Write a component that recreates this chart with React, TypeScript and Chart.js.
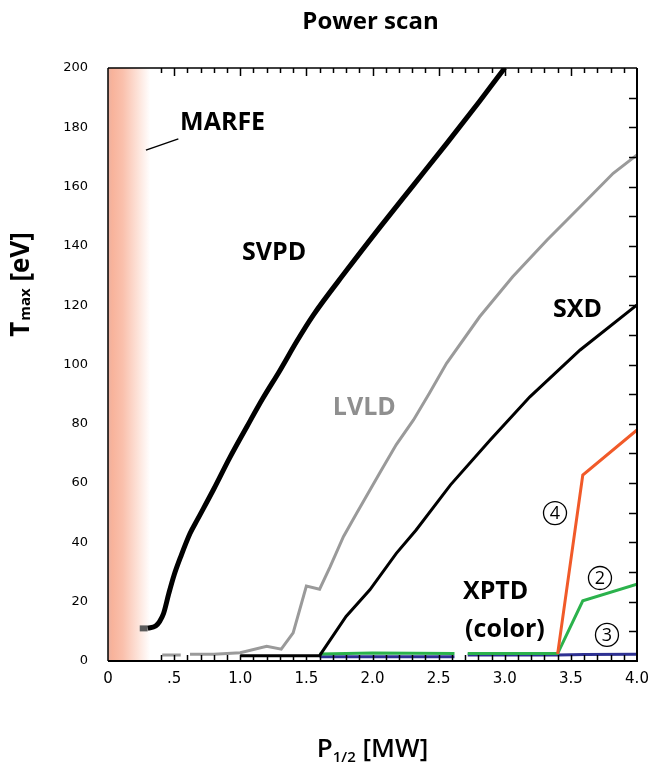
import React, { useEffect, useRef } from 'react';
import { Chart, registerables } from 'chart.js';
Chart.register(...registerables);

// ---- data ----
const xTickLabels = ['0', '.5', '1.0', '1.5', '2.0', '2.5', '3.0', '3.5', '4.0'];

const svpdStartX = [0.24, 0.3];
const svpdStartY = [11, 11];

const svpdX = [0.3, 0.36, 0.39, 0.42, 0.46, 0.5, 0.55, 0.62, 0.68, 0.8, 0.92, 1.05, 1.17, 1.3, 1.43, 1.55, 1.8, 2.06, 2.31, 2.56, 2.81, 3.0];
const svpdY = [11, 11.8, 13.3, 16, 22.8, 29, 35.2, 43, 48, 58, 68.5, 79, 88.5, 98, 108, 116.5, 131.5, 146.5, 160.5, 174.5, 188.8, 200];

const lvldX = [0.41, 0.55, 0.58, 0.62, 0.8, 1.0, 1.2, 1.31, 1.4, 1.5, 1.6, 1.68, 1.78, 1.88, 2.06, 2.18, 2.31, 2.43, 2.56, 2.81, 3.06, 3.32, 3.57, 3.82, 4.0];
const lvldY = [2, 2, null, 2.3, 2.3, 2.8, 5, 4, 9.5, 25.3, 24.2, 31.8, 41.9, 49.8, 63.8, 73, 81.3, 90.3, 100.4, 116.1, 129.6, 142, 153.2, 164.5, 170.7];

const sxdX = [1.0, 1.6, 1.8, 1.98, 2.18, 2.33, 2.59, 2.89, 3.19, 3.57, 4.0];
const sxdY = [1.8, 1.8, 15, 24, 36.3, 44.2, 59.4, 74.5, 89.1, 104.9, 120.1];

const xptd2X = [1.6, 2.0, 2.62, 2.67, 2.72, 3.4, 3.59, 4.0];
const xptd2Y = [2.4, 2.7, 2.5, null, 2.5, 2.5, 20.3, 25.9];

const xptd3X = [1.6, 2.62, 2.67, 2.72, 3.4, 3.6, 4.0];
const xptd3Y = [1.4, 1.4, null, 2.0, 2.0, 2.2, 2.3];

const xptd4X = [3.4, 3.59, 4.0];
const xptd4Y = [2.4, 62.7, 77.9];

const marfeBand = [0, 0.32];

const labelTexts = ['MARFE', 'SVPD', 'LVLD', 'SXD', 'XPTD', '(color)'];
const labelX = [0.545, 1.013, 1.70, 3.365, 2.684, 2.70];
const labelY = [181.5, 137.6, 85.3, 118.4, 23.3, 10.5];
const labelColors = ['#000', '#000', '#8f8f8f', '#000', '#000', '#000'];

const marfeLeaderX = [0.287, 0.532];
const marfeLeaderY = [172.3, 176.1];

const circleTexts = ['4', '2', '3'];
const circleX = [3.38, 3.72, 3.773];
const circleY = [49.9, 28, 8.8];

const pts = (xs: number[], ys: (number | null)[]) => xs.map((x, i) => ({ x, y: ys[i] }));

const decorPlugin = {
  id: 'decor',
  beforeDatasetsDraw(chart: any) {
    const { ctx, chartArea, scales } = chart;
    const xs = scales.x;
    const x0 = xs.getPixelForValue(marfeBand[0]);
    const x1 = xs.getPixelForValue(marfeBand[1]);
    const g = ctx.createLinearGradient(x0, 0, x1, 0);
    g.addColorStop(0, '#e9b2a3');
    g.addColorStop(0.1, '#f8b39b');
    g.addColorStop(0.35, '#fac0ac');
    g.addColorStop(0.7, '#fde2d8');
    g.addColorStop(1, 'rgba(255,255,255,1)');
    ctx.save();
    ctx.fillStyle = g;
    ctx.fillRect(x0, chartArea.top, x1 - x0, chartArea.bottom - chartArea.top);
    ctx.restore();
  },
  afterDatasetsDraw(chart: any) {
    const { ctx, chartArea, scales } = chart;
    const xs = scales.x;
    const ys = scales.y;
    const { left, right, top, bottom } = chartArea;
    ctx.save();
    ctx.strokeStyle = '#000';
    ctx.fillStyle = '#000';
    // ticks
    ctx.lineWidth = 1.5;
    for (let i = 4; i < 40; i++) {
      const v = i / 10;
      const px = Math.round(xs.getPixelForValue(v)) + 0.5;
      const major = i % 5 === 0;
      ctx.beginPath();
      ctx.moveTo(px, top);
      ctx.lineTo(px, top + (major ? 8 : 5));
      ctx.moveTo(px, bottom);
      ctx.lineTo(px, bottom - 6);
      ctx.stroke();
    }
    for (let v = 10; v < 200; v += 10) {
      const py = Math.round(ys.getPixelForValue(v)) + 0.5;
      ctx.beginPath();
      ctx.moveTo(right, py);
      ctx.lineTo(right - 8, py);
      ctx.stroke();
    }
    // frame
    ctx.lineWidth = 1.5;
    ctx.beginPath();
    ctx.moveTo(left, top);
    ctx.lineTo(right, top);
    ctx.moveTo(left, top);
    ctx.lineTo(left, bottom);
    ctx.stroke();
    ctx.lineWidth = 2;
    ctx.beginPath();
    ctx.moveTo(left, bottom);
    ctx.lineTo(right, bottom);
    ctx.lineTo(right, top);
    ctx.stroke();

    // MARFE leader
    ctx.lineWidth = 1.5;
    ctx.beginPath();
    ctx.moveTo(xs.getPixelForValue(marfeLeaderX[0]), ys.getPixelForValue(marfeLeaderY[0]));
    ctx.lineTo(xs.getPixelForValue(marfeLeaderX[1]), ys.getPixelForValue(marfeLeaderY[1]));
    ctx.stroke();

    // labels
    ctx.font = 'bold 25px "Open Sans"';
    ctx.textBaseline = 'middle';
    ctx.textAlign = 'left';
    labelTexts.forEach((t, i) => {
      ctx.fillStyle = labelColors[i];
      ctx.fillText(t, xs.getPixelForValue(labelX[i]), ys.getPixelForValue(labelY[i]));
    });

    // circled numbers
    ctx.fillStyle = '#000';
    ctx.lineWidth = 1.3;
    ctx.font = '18px "Open Sans"';
    ctx.textAlign = 'center';
    circleTexts.forEach((t, i) => {
      const cx = xs.getPixelForValue(circleX[i]);
      const cy = ys.getPixelForValue(circleY[i]);
      ctx.beginPath();
      ctx.arc(cx, cy, 11.5, 0, Math.PI * 2);
      ctx.stroke();
      ctx.fillText(t, cx, cy + 1);
    });

    // title
    ctx.textAlign = 'center';
    ctx.textBaseline = 'alphabetic';
    ctx.font = 'bold 24px "Open Sans"';
    ctx.fillText('Power scan', (left + right) / 2 - 2, 29);

    // x title with subscript
    const midX = (left + right) / 2;
    const bigX = '600 26px "Open Sans"';
    const smallX = '600 15px "Open Sans"';
    ctx.textAlign = 'left';
    ctx.font = bigX;
    const wP = ctx.measureText('P').width;
    const wRest = ctx.measureText(' [MW]').width;
    ctx.font = smallX;
    const wSub = ctx.measureText('1/2').width;
    let sx = midX - (wP + wSub + wRest) / 2;
    const by = 757;
    ctx.font = bigX;
    ctx.fillText('P', sx, by);
    sx += wP;
    ctx.font = smallX;
    ctx.fillText('1/2', sx, by + 5);
    sx += wSub;
    ctx.font = bigX;
    ctx.fillText(' [MW]', sx, by);

    // y title with subscript (rotated)
    const bigY = 'bold 26px "Open Sans"';
    const smallY = 'bold 15px "Open Sans"';
    ctx.save();
    ctx.translate(29, 285);
    ctx.rotate(-Math.PI / 2);
    ctx.font = bigY;
    const wT = ctx.measureText('T').width;
    const wE = ctx.measureText(' [eV]').width;
    ctx.font = smallY;
    const wM = ctx.measureText('max').width;
    let ty = -(wT + wM + wE) / 2;
    ctx.font = bigY;
    ctx.fillText('T', ty, 0);
    ty += wT + 1;
    ctx.font = smallY;
    ctx.fillText('max', ty, 1);
    ty += wM;
    ctx.font = bigY;
    ctx.fillText(' [eV]', ty, 0);
    ctx.restore();

    ctx.restore();
  },
};

export default function App() {
  const ref = useRef<HTMLCanvasElement>(null);
  useEffect(() => {
    if (!ref.current) return;
    const common = { pointRadius: 0, fill: false, spanGaps: false };
    const chart = new Chart(ref.current, {
      type: 'line',
      data: {
        datasets: [
          { ...common, data: pts(svpdStartX, svpdStartY), borderColor: '#5a5a5a', borderWidth: 6, borderCapStyle: 'butt', tension: 0 },
          { ...common, data: pts(svpdX, svpdY), borderColor: '#000', borderWidth: 5, tension: 0.35, cubicInterpolationMode: 'monotone' },
          { ...common, data: pts(sxdX, sxdY), borderColor: '#000', borderWidth: 3, tension: 0 },
          { ...common, data: pts(lvldX, lvldY), borderColor: '#9a9a9a', borderWidth: 3, tension: 0 },
          { ...common, data: pts(xptd4X, xptd4Y), borderColor: '#f15a29', borderWidth: 3, tension: 0 },
          { ...common, data: pts(xptd2X, xptd2Y), borderColor: '#2bb24c', borderWidth: 3, tension: 0 },
          { ...common, data: pts(xptd3X, xptd3Y), borderColor: '#2e3192', borderWidth: 3, tension: 0 },
        ] as any,
      },
      options: {
        animation: false,
        responsive: false,
        maintainAspectRatio: false,
        layout: { padding: { left: 8, top: 68, right: 13, bottom: 0 } },
        plugins: { legend: { display: false }, tooltip: { enabled: false }, title: { display: false } },
        scales: {
          x: {
            type: 'linear',
            min: 0,
            max: 4,
            grid: { display: false, drawTicks: false },
            border: { display: false },
            ticks: {
              stepSize: 0.5,
              padding: 9,
              color: '#000',
              font: { family: 'DejaVu Sans', size: 15 },
              maxRotation: 0,
              autoSkip: false,
              callback: (_v: any, i: number) => xTickLabels[i],
            },
            afterFit: (s: any) => { s.height = 104; s.paddingLeft = 0; s.paddingRight = 0; },
          },
          y: {
            type: 'linear',
            min: 0,
            max: 200,
            grid: { display: false, drawTicks: false },
            border: { display: false },
            ticks: {
              stepSize: 20,
              padding: 20,
              color: '#000',
              font: { family: 'DejaVu Sans', size: 13 },
            },
            afterFit: (s: any) => { s.width = 100; s.paddingTop = 0; s.paddingBottom = 0; },
          },
        },
      } as any,
      plugins: [decorPlugin],
    });
    return () => chart.destroy();
  }, []);
  return (
    <div style={{ position: 'fixed', left: 0, top: 0, width: 650, height: 765, background: '#fff' }}>
      <canvas ref={ref} width={650} height={765} style={{ width: 650, height: 765 }} />
    </div>
  );
}
